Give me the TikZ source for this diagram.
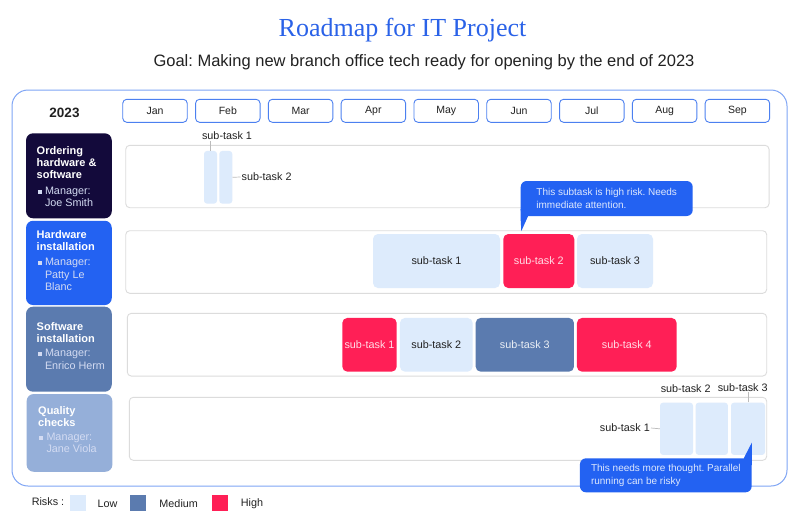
\documentclass[tikz,border=0pt]{standalone}
\usepackage{fontspec}
\setmainfont{Liberation Sans}
\newfontfamily\serifttl{Liberation Serif}
\usetikzlibrary{calc}
\frenchspacing
\definecolor{ttlblue}{HTML}{2A62E8}
\definecolor{boxblue}{HTML}{2362F2}
\definecolor{frameblue}{HTML}{7FA5F5}
\definecolor{monthblue}{HTML}{4C80F0}
\definecolor{navy}{HTML}{130A3B}
\definecolor{medblue}{HTML}{5B7BAF}
\definecolor{paleblue}{HTML}{95AFD9}
\definecolor{lowfill}{HTML}{DDEBFC}
\definecolor{highred}{HTML}{FF1F56}
\definecolor{trackgray}{HTML}{DCDCDC}
\definecolor{txtdark}{HTML}{222222}
\definecolor{mgrtxt}{HTML}{D3DBF2}
\definecolor{leadgray}{HTML}{BBBBBB}
\newcommand{\fsz}[2]{\fontsize{#1}{#2}\selectfont}
\newcommand{\mgrbox}[1]{\begin{tabular}{@{}l@{\hspace{3.5pt}}l@{}}\rule[0.8pt]{4pt}{4pt} & #1\end{tabular}}
\begin{document}
\begin{tikzpicture}[x=1pt,y=-1pt,
  month/.style={draw=monthblue, line width=0.9pt, rounded corners=4pt, minimum width=64.5pt, minimum height=23pt, inner sep=0pt, font=\fsz{10.5}{12}, text=txtdark},
  track/.style={draw=trackgray, line width=0.9pt, rounded corners=4pt, inner sep=0pt},
  task/.style={rounded corners=5pt, inner sep=0pt, font=\fsz{10.8}{13}},
  low/.style={task, fill=lowfill, text=txtdark},
  med/.style={task, fill=medblue, text=white!88!medblue},
  high/.style={task, fill=highred, text=white!85!highred},
  bar/.style={fill=lowfill, rounded corners=3pt, inner sep=0pt},
  rowbox/.style={rounded corners=7pt, inner sep=0pt},
  rowtxt/.style={anchor=north west, inner sep=0pt, align=left, text=white, font=\fsz{11}{12.2}\bfseries},
  mgrtxt/.style={anchor=north west, inner sep=0pt, text=mgrtxt, font=\fsz{10.8}{12.2}},
  lbl/.style={font=\fsz{10.8}{13}, text=txtdark, inner sep=1pt},
  callout/.style={fill=boxblue, rounded corners=6pt, text=white!85!boxblue, font=\fsz{10}{12.3}, align=left, inner sep=0pt},
  lead/.style={draw=leadgray, line width=0.7pt},
  legsq/.style={minimum width=16pt, minimum height=16pt, inner sep=0pt},
  legtxt/.style={font=\fsz{10.8}{12}, text=txtdark, inner sep=0pt}
]
\useasboundingbox (0,0) rectangle (800,520);
\fill[white] (0,0) rectangle (800,520);

% titles
\node[font=\serifttl\fsz{26}{30}, text=ttlblue] (title) at (402.5,30) {Roadmap for IT Project};
\node[font=\fsz{16.5}{19}, text=txtdark] (subtitle) at (424,62) {Goal: Making new branch office tech ready for opening by the end of 2023};

% frame
\node[draw=frameblue, line width=1pt, rounded corners=16pt, minimum width=775pt, minimum height=396pt, inner sep=0pt] (frame) at (399.5,288) {};

% year + months
\node[font=\fsz{13.5}{15}\bfseries, text=txtdark] (year) at (64.5,112.7) {2023};
\foreach \m [count=\i from 0] in {Jan,Feb,Mar,Apr,May,Jun,Jul,Aug,Sep}
  \node[month] (m\i) at ({155+72.8*\i},110.8) {\m};

% row label boxes
\node[rowbox, fill=navy, minimum width=85.7pt, minimum height=85pt] (r1) at (68.9,175.8) {};
\node[rowbox, fill=boxblue, minimum width=85.7pt, minimum height=84.3pt] (r2) at (68.9,262.9) {};
\node[rowbox, fill=medblue, minimum width=85.7pt, minimum height=85pt] (r3) at (68.9,349.2) {};
\node[rowbox, fill=paleblue, minimum width=85.7pt, minimum height=77.7pt] (r4) at (69.5,432.9) {};

\node[rowtxt] (r1t) at (36.5,146) {Ordering\\hardware \&\\software};
\node[mgrtxt] (r1m) at ($(r1t.south west)+(0.8,7)$) {\mgrbox{Manager:\\ & Joe Smith}};
\node[rowtxt] (r2t) at (36.5,230.5) {Hardware\\installation};
\node[mgrtxt] (r2m) at ($(r2t.south west)+(0.8,6)$) {\mgrbox{Manager:\\ & Patty Le\\ & Blanc}};
\node[rowtxt] (r3t) at (36.5,322) {Software\\installation};
\node[mgrtxt] (r3m) at ($(r3t.south west)+(0.8,5.5)$) {\mgrbox{Manager:\\ & Enrico Herm}};
\node[rowtxt] (r4t) at (38,406) {Quality\\checks};
\node[mgrtxt] (r4m) at ($(r4t.south west)+(0.8,5)$) {\mgrbox{Manager:\\ & Jane Viola}};

% tracks
\node[track, minimum width=643.3pt, minimum height=62.4pt] (tr1) at (447.4,176.5) {};
\node[track, minimum width=641pt, minimum height=62.6pt] (tr2) at (446.2,262) {};
\node[track, minimum width=639.4pt, minimum height=62.7pt] (tr3) at (447,344.7) {};
\node[track, minimum width=637.4pt, minimum height=63pt] (tr4) at (448,428.8) {};

% row 1
\node[bar, minimum width=13pt, minimum height=52.7pt] (b1) at (210.5,177.3) {};
\node[bar, minimum width=13pt, minimum height=52.7pt] (b2) at (225.8,177.3) {};
\node[lbl] (l11) at (227,136) {sub-task 1};
\node[lbl, anchor=west] (l12) at (240.5,177) {sub-task 2};
\draw[lead] (b1.north) -- (b1.north |- l11.south);
\draw[lead] (b2.east) -- (l12.west);

% row 2
\node[low, minimum width=127pt, minimum height=54pt] (t21) at (436.5,261) {sub-task 1};
\node[high, minimum width=71pt, minimum height=54pt] (t22) at (538.8,261) {sub-task 2};
\node[low, minimum width=76pt, minimum height=54pt] (t23) at (615,261) {sub-task 3};

% row 3
\node[high, minimum width=54.4pt, minimum height=53.7pt] (t31) at (369.5,344.8) {sub-task 1};
\node[low, minimum width=72.7pt, minimum height=53.7pt] (t32) at (436.3,344.8) {sub-task 2};
\node[med, minimum width=98.3pt, minimum height=53.7pt] (t33) at (524.8,344.8) {sub-task 3};
\node[high, minimum width=99.7pt, minimum height=53.7pt] (t34) at (626.8,344.8) {sub-task 4};

% row 4
\node[bar, minimum width=33pt, minimum height=52.3pt] (t41) at (676.5,428.8) {};
\node[bar, minimum width=32.3pt, minimum height=52.3pt] (t42) at (711.8,428.8) {};
\node[bar, minimum width=34pt, minimum height=52.3pt] (t43) at (748,428.8) {};
\node[lbl, anchor=east] (l41) at (651,428) {sub-task 1};
\node[lbl] (l42) at (685.7,389) {sub-task 2};
\node[lbl] (l43) at (742.7,387.3) {sub-task 3};
\draw[lead] (t41.west) -- (l41.east);
\draw[lead] ($(t42.north)+(-4.5,0)$) -- ($(t42.north)+(-4.5,0)$ |- l42.south);
\draw[lead] (t43.north) -- (t43.north |- l43.south);

% callouts
\node[callout, minimum width=172pt, minimum height=35pt] (c1) at (606.7,198.5) {This subtask is high risk. Needs\\immediate attention.};
\fill[boxblue] ($(c1.south west)+(0,-7)$) -- ($(c1.south west)+(7.5,-7)$) -- ($(c1.south west)+(7.5,0)$) -- ($(c1.south west)+(0.8,15)$) -- (c1.south west) -- cycle;
\node[callout, minimum width=171.7pt, minimum height=34pt] (c2) at (665.8,475.3) {This needs more thought. Parallel\\running can be risky};
\fill[boxblue] ($(c2.north east)+(-8,0)$) -- ($(c2.north east)+(0,-15.5)$) -- ($(c2.north east)+(0,7)$) -- ($(c2.north east)+(-8,7)$) -- cycle;

% legend
\node[legtxt] (risks) at (48,502) {Risks :};
\node[legsq, fill=lowfill] (sqlow) at (78,503) {};
\node[legtxt] (lowt) at (107.5,504) {Low};
\node[legsq, fill=medblue] (sqmed) at (137.5,503) {};
\node[legtxt] (medt) at (178.7,504) {Medium};
\node[legsq, fill=highred] (sqhigh) at (220.3,503) {};
\node[legtxt] (hight) at (252,504) {High};
\end{tikzpicture}
\end{document}
